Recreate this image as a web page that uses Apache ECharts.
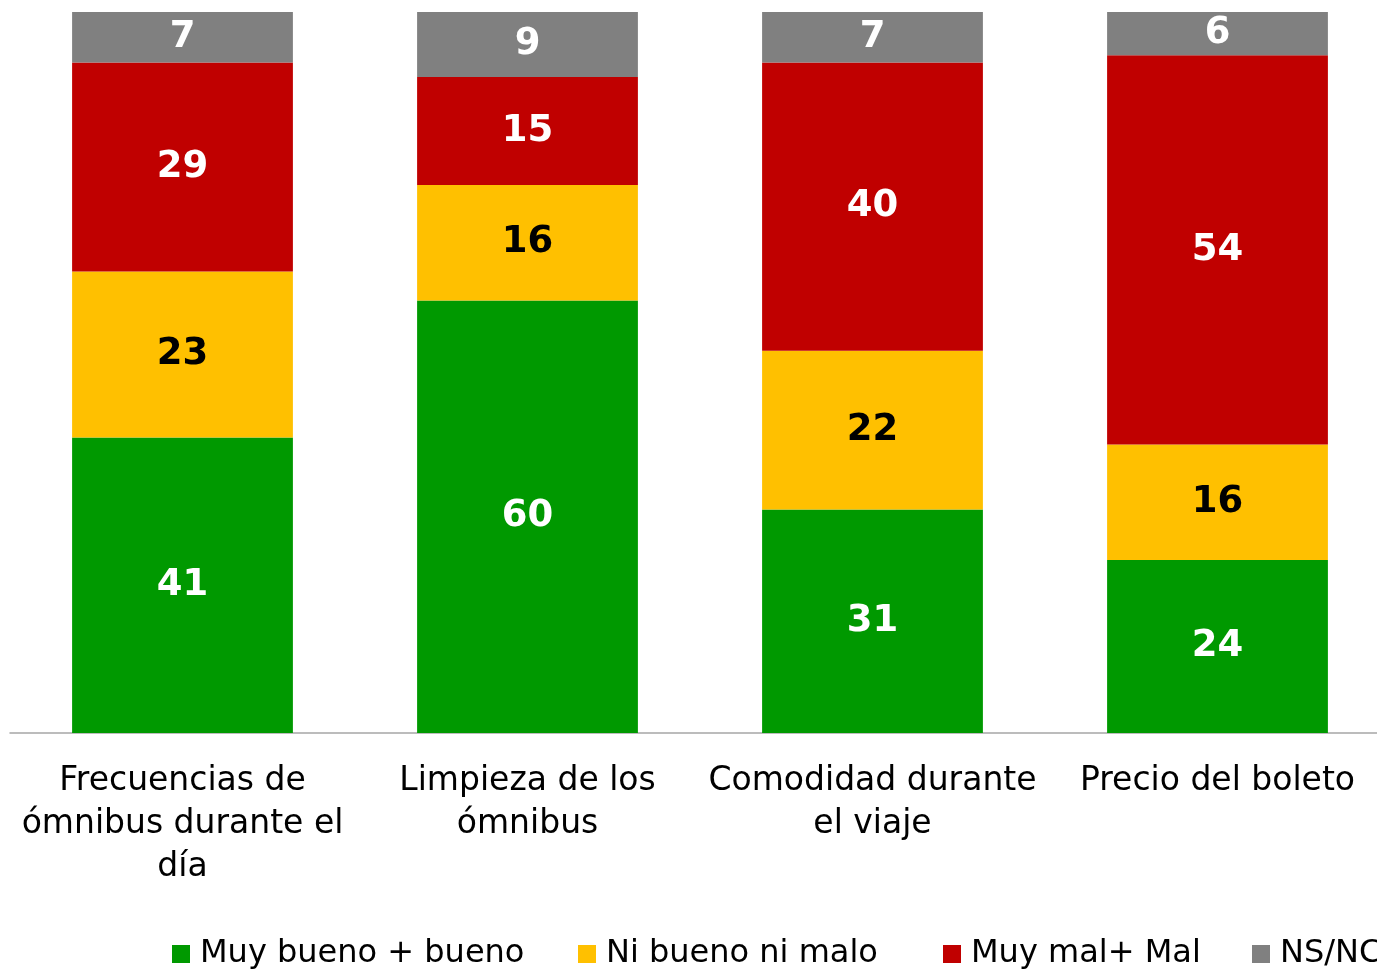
<!DOCTYPE html>
<html>
<head>
<meta charset="utf-8">
<script src="https://cdn.jsdelivr.net/npm/echarts@6/dist/echarts.min.js"></script>
<style>
html,body{margin:0;padding:0;background:#fff;overflow:hidden;}
#chart{width:1390px;height:971px;}
</style>
</head>
<body>
<div id="chart"></div>
<script>
const categories = ["Frecuencias de\nómnibus durante el\ndía", "Limpieza de los\nómnibus", "Comodidad durante\nel viaje", "Precio del boleto"];
const seriesNames = ["Muy bueno + bueno", "Ni bueno ni malo", "Muy mal+ Mal", "NS/NC"];
const bueno = [41, 60, 31, 24];
const niBuenoNiMalo = [23, 16, 22, 16];
const malo = [29, 15, 40, 54];
const nsnc = [7, 9, 7, 6];

const colors = ["#009900", "#FFC000", "#C00000", "#808080"];
const labelColors = ["#ffffff", "#000000", "#ffffff", "#ffffff"];
const legendLefts = [172, 578, 943, 1252];
const values = [bueno, niBuenoNiMalo, malo, nsnc];
const FONT = "DejaVu Sans";

const chart = echarts.init(document.getElementById('chart'));
chart.setOption({
  animation: false,
  textStyle: { fontFamily: FONT },
  grid: { left: 10, width: 1380, top: 12, bottom: 238, containLabel: false },
  legend: seriesNames.map((n, i) => ({
    left: legendLefts[i], top: 938, padding: 0,
    itemWidth: 18, itemHeight: 18,
    icon: 'rect',
    textStyle: { fontFamily: FONT, fontSize: 32, color: '#000', padding: [0,0,0,5] },
    data: [n]
  })),
  xAxis: {
    type: 'category',
    data: categories,
    axisLine: { lineStyle: { color: '#a6a6a6', width: 1.5 } },
    axisTick: { show: false },
    axisLabel: { fontFamily: FONT, fontSize: 33, color: '#000', lineHeight: 43, margin: 27, interval: 0 }
  },
  yAxis: { type: 'value', min: 0, max: 100, show: false, splitLine: { show: false } },
  series: values.map((v, i) => ({
    name: seriesNames[i],
    type: 'bar',
    stack: 'total',
    barWidth: '64%',
    data: v,
    itemStyle: { color: colors[i] },
    label: {
      show: true, position: 'inside',
      fontFamily: FONT, fontSize: 37, fontWeight: 'bold', color: labelColors[i]
    }
  }))
});
</script>
</body>
</html>
